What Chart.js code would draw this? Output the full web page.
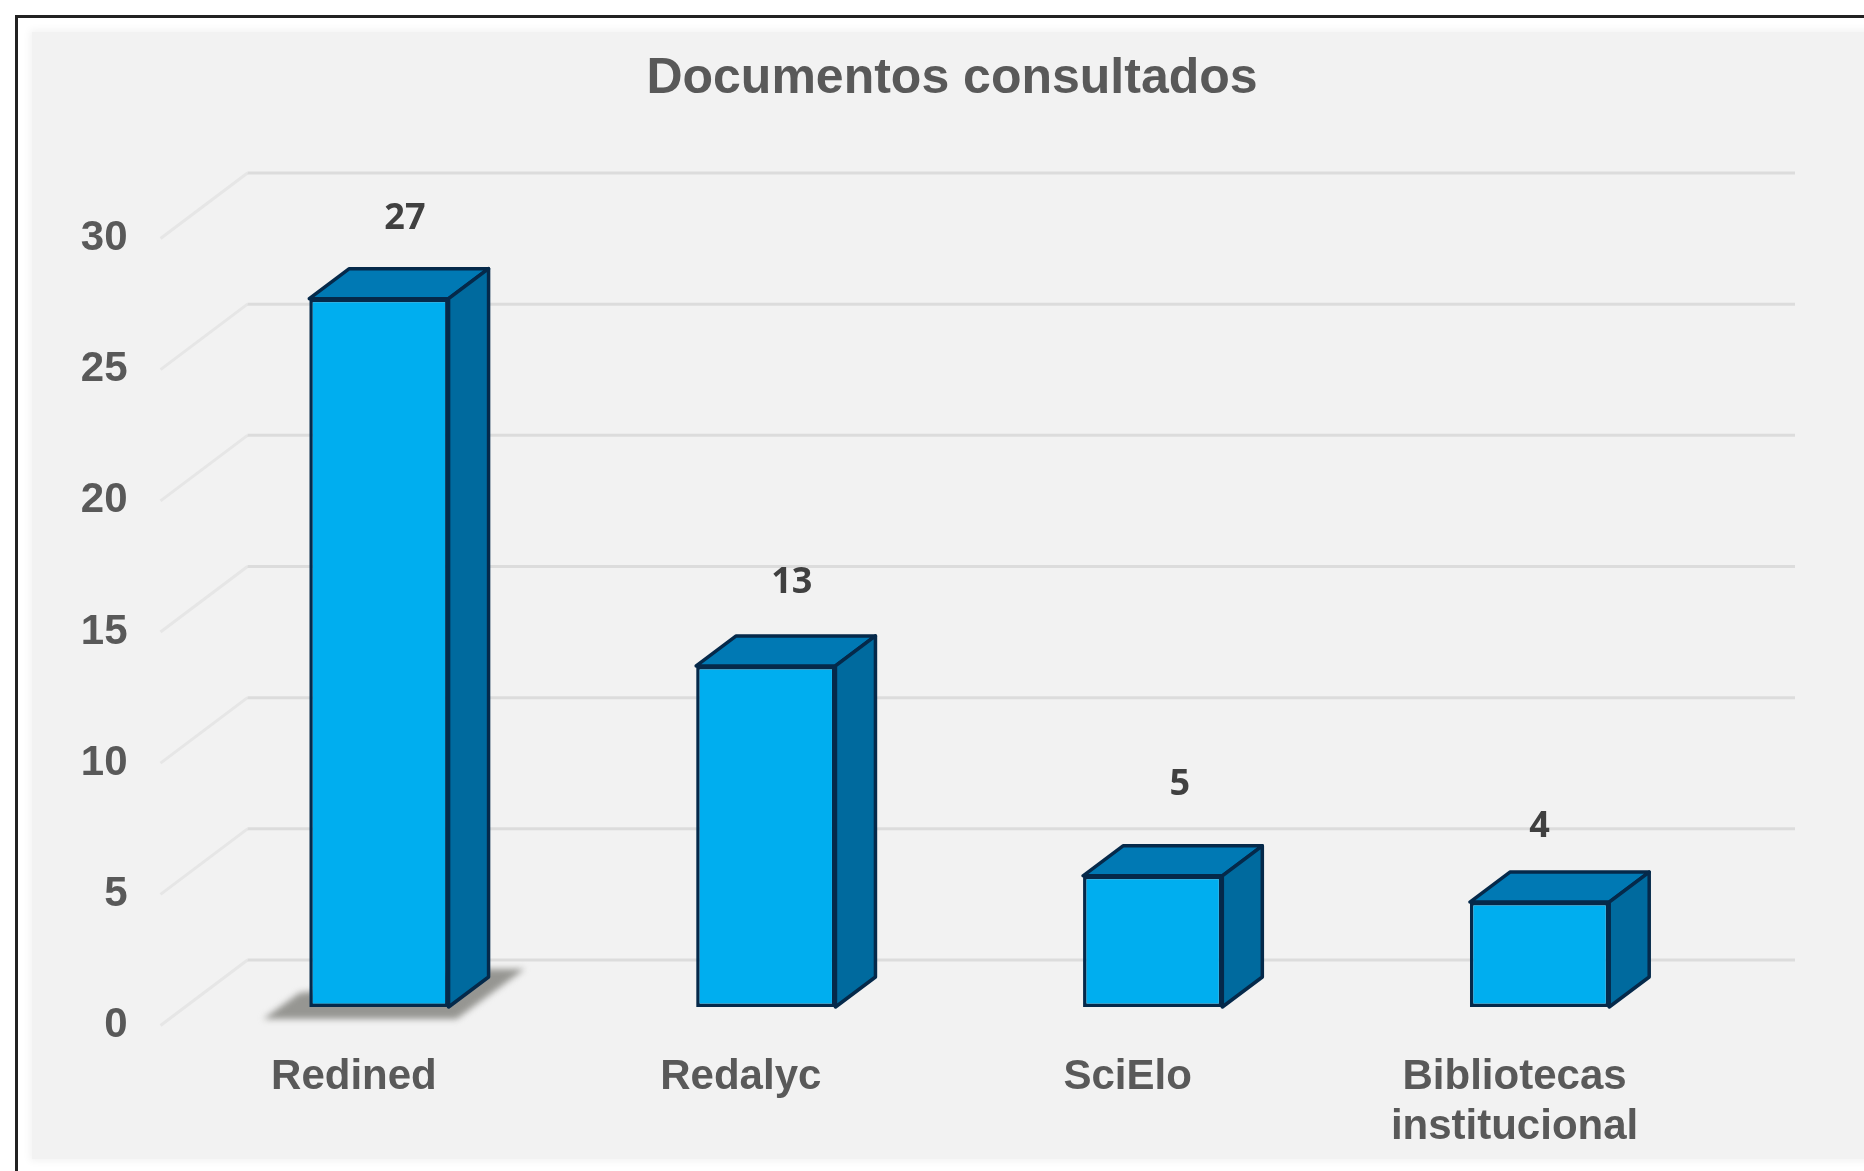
<!DOCTYPE html>
<html>
<head>
<meta charset="utf-8">
<title>Documentos consultados</title>
<script src="https://cdn.jsdelivr.net/npm/chart.js@4/dist/chart.umd.min.js"></script>
<style>
  html, body { margin: 0; padding: 0; background: #fff; overflow: hidden; }
  #frame { position: absolute; left: 15px; top: 15px; width: 1849px; height: 1156px; border-left: 3px solid #222; border-top: 3px solid #222; box-sizing: border-box; }
  #panel { position: absolute; left: 32px; top: 32px; width: 1840px; height: 1127px; background: #f2f2f2; box-shadow: 0 0 8px 2px #f2f2f2; }
  #wrap { position: absolute; left: 0; top: 0; width: 1864px; height: 1171px; filter: blur(0.6px); }
</style>
</head>
<body>
<div id="frame"></div>
<div id="panel"></div>
<div id="wrap"><canvas id="chart"></canvas></div>
<script>
const categories = ['Redined', 'Redalyc', 'SciElo', ['Bibliotecas', 'institucional']];
const documentos = [27, 13, 5, 4];
const yTicks = [0, 5, 10, 15, 20, 25, 30];
const chartTitle = 'Documentos consultados';

const COLORS = {
  front: '#00aeef',
  top: '#0079b4',
  side: '#006a9e',
  edge: '#05294a',
  grid: '#dcdcdc',
  gridSide: '#e6e6e6',
  text: '#595959',
  value: '#404040'
};

// profundidad del piso y de las barras
const FLOOR = { dx: 87, dy: -65.5 };
const BAR_SHIFT = { dx: 25, dy: -18.5 };
const BAR_DEPTH = { dx: 40, dy: -30 };
// las etiquetas de valor estan movidas a mano en el original
const LABEL_SHIFT = [{ x: 26, y: -49.5 }, { x: 26, y: -53 }, { x: 27, y: -61.5 }, { x: 0, y: -45.5 }];

// rejilla de fondo
const gridPlugin = {
  id: 'grid3d',
  beforeDatasetsDraw(chart) {
    const { ctx, chartArea, scales } = chart;
    ctx.save();
    yTicks.forEach(v => {
      const y = scales.y.getPixelForValue(v);
      ctx.beginPath();
      ctx.moveTo(chartArea.left, y);
      ctx.lineTo(chartArea.left + FLOOR.dx, y + FLOOR.dy);
      ctx.strokeStyle = COLORS.gridSide;
      ctx.lineWidth = 3;
      ctx.stroke();
      ctx.beginPath();
      ctx.moveTo(chartArea.left + FLOOR.dx, y + FLOOR.dy);
      ctx.lineTo(chartArea.right + FLOOR.dx, y + FLOOR.dy);
      ctx.strokeStyle = COLORS.grid;
      ctx.stroke();
    });
    ctx.restore();
  }
};

function face(ctx, pts, fill) {
  ctx.beginPath();
  pts.forEach((p, i) => (i ? ctx.lineTo(p[0], p[1]) : ctx.moveTo(p[0], p[1])));
  ctx.closePath();
  ctx.fillStyle = fill;
  ctx.fill();
  ctx.strokeStyle = COLORS.edge;
  ctx.lineWidth = 3.5;
  ctx.lineJoin = 'round';
  ctx.stroke();
}

// caras laterales y superior, a partir de cada barra de Chart.js
const bar3dPlugin = {
  id: 'bar3d',
  beforeDatasetsDraw(chart) {
    const { ctx } = chart;
    const bars = chart.getDatasetMeta(0).data;
    ctx.save();
    ctx.translate(BAR_SHIFT.dx, BAR_SHIFT.dy);
    // sombra bajo la primera barra
    const b0 = bars[0];
    const half = b0.width / 2;
    ctx.save();
    ctx.filter = 'blur(3px)';
    ctx.beginPath();
    ctx.moveTo(b0.x - half - 46, b0.base + 12);
    ctx.lineTo(b0.x + half + 8, b0.base + 12);
    ctx.lineTo(b0.x + half + 76, b0.base - 38);
    ctx.lineTo(b0.x + half + 30, b0.base - 38);
    ctx.lineTo(b0.x - half - 10, b0.base - 14);
    ctx.closePath();
    ctx.fillStyle = '#969692';
    ctx.fill();
    ctx.restore();
    bars.forEach(bar => {
      const l = bar.x - bar.width / 2;
      const r = bar.x + bar.width / 2;
      const d = BAR_DEPTH;
      face(ctx, [[l, bar.y], [l + d.dx, bar.y + d.dy], [r + d.dx, bar.y + d.dy], [r, bar.y]], COLORS.top);
      face(ctx, [[r, bar.y], [r + d.dx, bar.y + d.dy], [r + d.dx, bar.base + d.dy], [r, bar.base]], COLORS.side);
    });
    ctx.restore();
    ctx.save();
    ctx.translate(BAR_SHIFT.dx, BAR_SHIFT.dy);
  },
  afterDatasetsDraw(chart) {
    const { ctx } = chart;
    ctx.restore();
    // etiquetas de valor
    const bars = chart.getDatasetMeta(0).data;
    ctx.save();
    ctx.font = 'bold 36px "Open Sans"';
    ctx.fillStyle = COLORS.value;
    ctx.textAlign = 'center';
    ctx.textBaseline = 'middle';
    bars.forEach((bar, i) => {
      ctx.fillText(String(documentos[i]), bar.x + BAR_SHIFT.dx + LABEL_SHIFT[i].x, bar.y + BAR_SHIFT.dy + BAR_DEPTH.dy + LABEL_SHIFT[i].y);
    });
    ctx.restore();
  }
};

// el titulo del original no esta centrado en el lienzo
const titleShift = {
  id: 'titleShift',
  afterLayout(chart) {
    chart.titleBlock.left += 98;
    chart.titleBlock.right += 98;
  }
};

new Chart(document.getElementById('chart'), {
  type: 'bar',
  data: {
    labels: categories,
    datasets: [{
      label: chartTitle,
      data: documentos,
      backgroundColor: COLORS.front,
      borderColor: COLORS.edge,
      borderWidth: 3.5,
      borderSkipped: false,
      categoryPercentage: 1,
      barPercentage: 0.36
    }]
  },
  options: {
    responsive: true,
    maintainAspectRatio: false,
    animation: false,
    layout: { padding: { left: 0, right: 156, top: 0, bottom: 0 } },
    plugins: {
      legend: { display: false },
      tooltip: { enabled: false },
      title: {
        display: true,
        text: chartTitle,
        color: COLORS.text,
        font: { family: '"Liberation Sans"', size: 50, weight: 'bold' },
        padding: { top: 49.5, bottom: 129 }
      }
    },
    scales: {
      x: {
        grid: { display: false },
        border: { display: false },
        ticks: {
          color: COLORS.text,
          font: { family: '"Liberation Sans"', size: 42, weight: 'bold', lineHeight: 1.19 },
          padding: 19,
          maxRotation: 0,
          autoSkip: false
        },
        afterFit(scale) { scale.height = 145.5; }
      },
      y: {
        min: 0,
        max: 30,
        grid: { display: false },
        border: { display: false },
        ticks: {
          stepSize: 5,
          color: COLORS.text,
          font: { family: '"Liberation Sans"', size: 42, weight: 'bold' },
          padding: 25
        },
        afterFit(scale) { scale.width = 160.5; }
      }
    }
  },
  plugins: [gridPlugin, bar3dPlugin, titleShift]
});
</script>
</body>
</html>
